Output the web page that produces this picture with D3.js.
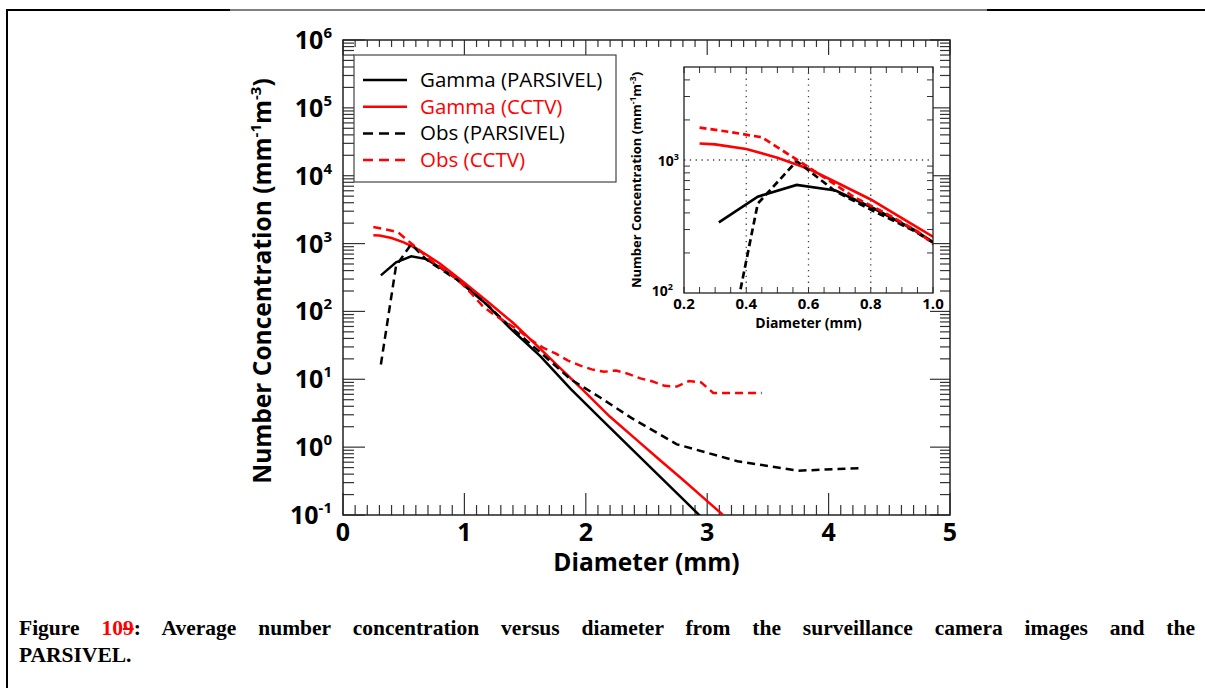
<!DOCTYPE html>
<meta charset="utf-8">
<style>
body { margin: 0; background: #fff; }
#chart { position: absolute; left: 0; top: 0; }
#caption {
  position: absolute;
  left: 19px;
  top: 615px;
  width: 1176px;
  font-family: "Liberation Serif", "Times New Roman", serif;
  font-weight: bold;
  font-size: 21.5px;
  line-height: 27px;
  color: #000;
}
#caption .l1 { display: block; text-align: justify; text-align-last: justify; }
#caption .ref { color: #f00; }
.lbl { font-family: "Open Sans", sans-serif; font-weight: bold; fill: #000; }
.leg { font-family: "Open Sans", sans-serif; font-size: 20.5px; }
</style>
<div id="chart"></div>
<div id="caption"><span class="l1">Figure <span class="ref">10<s>9</s></span>: Average number concentration versus diameter from the surveillance camera images and the</span>PARSIVEL.</div>
<script src="https://d3js.org/d3.v7.min.js"></script>
<script>
  // PARSIVEL bin centres (mm)
  var parsivelD = [0.312, 0.437, 0.562, 0.687, 0.812, 0.937, 1.062, 1.187, 1.375,
                   1.625, 1.875, 2.125, 2.375, 2.75, 3.25, 3.75, 4.25];
  var obsParsivel = [16.5, 470, 980, 580, 410, 295, 195, 125, 60,
                     25, 10, 5.3, 2.7, 1.1, 0.62, 0.45, 0.49];

  var gammaParsivelD = [0.312, 0.437, 0.562, 0.687, 0.812, 0.937, 1.062, 1.187, 1.375,
                        1.625, 1.875, 2.125, 2.375, 2.75, 3.25];
  var gammaParsivel = [340, 530, 650, 590, 430, 300, 195, 125, 57,
                       22, 7.2, 2.6, 0.95, 0.21, 0.028];

  // CCTV
  var cctvD = [0.25, 0.35, 0.45, 0.55, 0.65, 0.75, 0.85, 0.95, 1.05, 1.15, 1.25,
               1.35, 1.45, 1.55, 1.65, 1.75, 1.85, 1.95, 2.05, 2.15, 2.25, 2.35,
               2.45, 2.55, 2.65, 2.75, 2.85, 2.95, 3.05, 3.15, 3.25, 3.35, 3.45];
  var obsCctv = [1750, 1620, 1480, 1050, 740, 520, 395, 290, 190, 120, 88,
                 68, 52, 38, 29, 24, 19, 16, 14, 12.9, 13.5, 12,
                 10.3, 9.3, 8.0, 7.8, 9.4, 9.0, 6.3, 6.3, 6.3, 6.3, 6.3];

  var gammaCctvD = [0.25, 0.3, 0.4, 0.5, 0.6, 0.7, 0.8, 0.9, 1.0, 1.2, 1.4, 1.6,
                    1.8, 2.0, 2.2, 2.4, 2.6, 2.8, 3.0, 3.2];
  var gammaCctv = [1330, 1310, 1210, 1040, 860, 660, 505, 365, 265, 135, 68, 31,
                   14, 6.3, 2.8, 1.37, 0.67, 0.33, 0.16, 0.078];

  var xTicks = [0, 1, 2, 3, 4, 5];
  var yExps = [-1, 0, 1, 2, 3, 4, 5, 6];
  var insetXTicks = ["0.2", "0.4", "0.6", "0.8", "1.0"];
  var insetYExps = [2, 3];

  var legendNames = ["Gamma (PARSIVEL)", "Gamma (CCTV)", "Obs (PARSIVEL)", "Obs (CCTV)"];

  var series = [
    { name: legendNames[0], xs: gammaParsivelD, ys: gammaParsivel, color: "#000", dash: null },
    { name: legendNames[1], xs: gammaCctvD, ys: gammaCctv, color: "#f00", dash: null },
    { name: legendNames[2], xs: parsivelD, ys: obsParsivel, color: "#000", dash: "8,5" },
    { name: legendNames[3], xs: cctvD, ys: obsCctv, color: "#f00", dash: "8,5" }
  ];

  var W = 1205, H = 688;
  var svg = d3.select("#chart").append("svg").attr("width", W).attr("height", H);

  // page border
  svg.append("line").attr("x1", 7).attr("x2", 7).attr("y1", 9).attr("y2", H)
     .attr("stroke", "#000").attr("stroke-width", 2);
  svg.append("line").attr("x1", 6).attr("x2", 230).attr("y1", 10).attr("y2", 10)
     .attr("stroke", "#000").attr("stroke-width", 2);
  svg.append("line").attr("x1", 230).attr("x2", 987).attr("y1", 10).attr("y2", 10)
     .attr("stroke", "#000").attr("stroke-width", 1);
  svg.append("line").attr("x1", 987).attr("x2", W).attr("y1", 10).attr("y2", 10)
     .attr("stroke", "#000").attr("stroke-width", 2);

  // ---- main plot ----
  var L = 343, R = 950, T = 40, B = 515;
  var x = d3.scaleLinear().domain([0, 5]).range([L, R]);
  var y = d3.scaleLog().domain([0.1, 1e6]).range([B, T]);

  var ticksG = svg.append("g").attr("stroke", "#333").attr("stroke-width", 1.2);

  // x ticks: minor every 0.1
  d3.range(0, 51).forEach(function(i) {
    var v = i / 10, major = (i % 10 === 0);
    var px = x(v);
    ticksG.append("line").attr("x1", px).attr("x2", px)
      .attr("y1", B).attr("y2", B - (major ? 22 : 10));
    ticksG.append("line").attr("x1", px).attr("x2", px)
      .attr("y1", T).attr("y2", T + (major ? 15 : 7));
  });

  // y ticks: decades + minor 2..9
  yExps.forEach(function(e) {
    var py = y(Math.pow(10, e));
    ticksG.append("line").attr("x1", L).attr("x2", L + 22).attr("y1", py).attr("y2", py);
    ticksG.append("line").attr("x1", R).attr("x2", R - 20).attr("y1", py).attr("y2", py);
    if (e < 6) {
      d3.range(2, 10).forEach(function(k) {
        var pm = y(k * Math.pow(10, e));
        ticksG.append("line").attr("x1", L).attr("x2", L + 11).attr("y1", pm).attr("y2", pm);
        ticksG.append("line").attr("x1", R).attr("x2", R - 10).attr("y1", pm).attr("y2", pm);
      });
    }
  });

  svg.append("rect").attr("x", L).attr("y", T).attr("width", R - L).attr("height", B - T)
     .attr("fill", "none").attr("stroke", "#222").attr("stroke-width", 1.5);

  // tick labels
  svg.selectAll(".xl").data(xTicks).enter().append("text")
    .attr("class", "lbl").attr("x", function(d) { return x(d); }).attr("y", 541)
    .attr("text-anchor", "middle").attr("font-size", 25).text(function(d) { return d; });

  yExps.forEach(function(e) {
    var t = svg.append("text").attr("class", "lbl").attr("font-size", 25)
      .attr("x", 332).attr("y", y(Math.pow(10, e)) + 9).attr("text-anchor", "end");
    t.append("tspan").text("10");
    t.append("tspan").attr("dy", -11).attr("font-size", 15).text(e);
  });

  svg.append("text").attr("class", "lbl").attr("font-size", 24.5)
    .attr("x", (L + R) / 2).attr("y", 571).attr("text-anchor", "middle").text("Diameter (mm)");

  var yt = svg.append("text").attr("class", "lbl").attr("font-size", 24.5)
    .attr("transform", "translate(271," + 281 + ") rotate(-90)").attr("text-anchor", "middle");
  yt.append("tspan").text("Number Concentration (mm");
  yt.append("tspan").attr("dy", -10).attr("font-size", 15).text("-1");
  yt.append("tspan").attr("dy", 10).text("m");
  yt.append("tspan").attr("dy", -10).attr("font-size", 15).text("-3");
  yt.append("tspan").attr("dy", 10).text(")");

  // curves
  svg.append("clipPath").attr("id", "clipMain").append("rect")
    .attr("x", L).attr("y", T).attr("width", R - L).attr("height", B - T);

  var line = d3.line()
    .x(function(d) { return x(d[0]); })
    .y(function(d) { return y(d[1]); });

  var curves = svg.append("g").attr("clip-path", "url(#clipMain)");
  series.forEach(function(s) {
    curves.append("path")
      .datum(d3.zip(s.xs, s.ys))
      .attr("d", line)
      .attr("fill", "none")
      .attr("stroke", s.color)
      .attr("stroke-width", 2.5)
      .attr("stroke-dasharray", s.dash);
  });

  // legend
  var leg = svg.append("g");
  leg.append("rect").attr("x", 354).attr("y", 55).attr("width", 262).attr("height", 127)
    .attr("fill", "#fff").attr("stroke", "#444").attr("stroke-width", 1.2);
  series.forEach(function(s, i) {
    var ly = 80 + i * 26.7;
    leg.append("line").attr("x1", 363).attr("x2", 407).attr("y1", ly).attr("y2", ly)
      .attr("stroke", s.color).attr("stroke-width", 2.5)
      .attr("stroke-dasharray", s.dash ? "10,6" : null);
    leg.append("text").attr("class", "leg").attr("x", 420).attr("y", ly + 7)
      .attr("fill", s.color).text(s.name);
  });

  // ---- inset ----
  var iL = 684, iR = 933, iT = 67, iB = 293;
  var ix = d3.scaleLinear().domain([0.2, 1.0]).range([iL, iR]);
  var iy = d3.scaleLog().domain([100, 5000]).range([iB, iT]);

  var inset = svg.append("g");
  inset.append("rect").attr("x", iL).attr("y", iT).attr("width", iR - iL).attr("height", iB - iT)
    .attr("fill", "#fff");

  var iTicks = inset.append("g").attr("stroke", "#333").attr("stroke-width", 1);
  d3.range(4, 21).forEach(function(i) {
    var px = ix(i * 0.05);
    iTicks.append("line").attr("x1", px).attr("x2", px).attr("y1", iB).attr("y2", iB - 6);
    iTicks.append("line").attr("x1", px).attr("x2", px).attr("y1", iT).attr("y2", iT + 6);
  });
  [200, 300, 400, 500, 600, 700, 800, 900, 2000, 3000, 4000].forEach(function(v) {
    var py = iy(v);
    iTicks.append("line").attr("x1", iL).attr("x2", iL + 6).attr("y1", py).attr("y2", py);
    iTicks.append("line").attr("x1", iR).attr("x2", iR - 6).attr("y1", py).attr("y2", py);
  });

  var grid = inset.append("g").attr("stroke", "#444").attr("stroke-width", 1.3)
    .attr("stroke-dasharray", "1.3,4.5");
  [0.4, 0.6, 0.8].forEach(function(v) {
    grid.append("line").attr("x1", ix(v)).attr("x2", ix(v)).attr("y1", iT).attr("y2", iB);
  });
  grid.append("line").attr("x1", iL).attr("x2", iR).attr("y1", iy(1000)).attr("y2", iy(1000));

  svg.append("clipPath").attr("id", "clipInset").append("rect")
    .attr("x", iL).attr("y", iT).attr("width", iR - iL).attr("height", iB - iT);

  var iline = d3.line()
    .x(function(d) { return ix(d[0]); })
    .y(function(d) { return iy(d[1]); });

  var icurves = inset.append("g").attr("clip-path", "url(#clipInset)");
  series.forEach(function(s) {
    icurves.append("path")
      .datum(d3.zip(s.xs, s.ys))
      .attr("d", iline)
      .attr("fill", "none")
      .attr("stroke", s.color)
      .attr("stroke-width", 2.7)
      .attr("stroke-dasharray", s.dash ? "7,4" : null);
  });

  inset.append("rect").attr("x", iL).attr("y", iT).attr("width", iR - iL).attr("height", iB - iT)
    .attr("fill", "none").attr("stroke", "#222").attr("stroke-width", 1.3);

  inset.selectAll(".ixl").data(insetXTicks).enter().append("text")
    .attr("class", "lbl").attr("font-size", 15)
    .attr("x", function(d) { return ix(+d); }).attr("y", 309)
    .attr("text-anchor", "middle").text(function(d) { return d; });

  insetYExps.forEach(function(e) {
    var t = inset.append("text").attr("class", "lbl").attr("font-size", 14)
      .attr("x", e === 2 ? 673 : 679).attr("y", iy(Math.pow(10, e)) + (e === 2 ? 3 : 6))
      .attr("text-anchor", "end");
    t.append("tspan").text("10");
    t.append("tspan").attr("dy", -6).attr("font-size", 9).text(e);
  });

  inset.append("text").attr("class", "lbl").attr("font-size", 14)
    .attr("x", (iL + iR) / 2).attr("y", 328).attr("text-anchor", "middle").text("Diameter (mm)");

  var iyt = inset.append("text").attr("class", "lbl").attr("font-size", 13)
    .attr("transform", "translate(641,180) rotate(-90)").attr("text-anchor", "middle");
  iyt.append("tspan").text("Number Concentration (mm");
  iyt.append("tspan").attr("dy", -5).attr("font-size", 8.5).text("-1");
  iyt.append("tspan").attr("dy", 5).text("m");
  iyt.append("tspan").attr("dy", -5).attr("font-size", 8.5).text("-3");
  iyt.append("tspan").attr("dy", 5).text(")");
</script>
